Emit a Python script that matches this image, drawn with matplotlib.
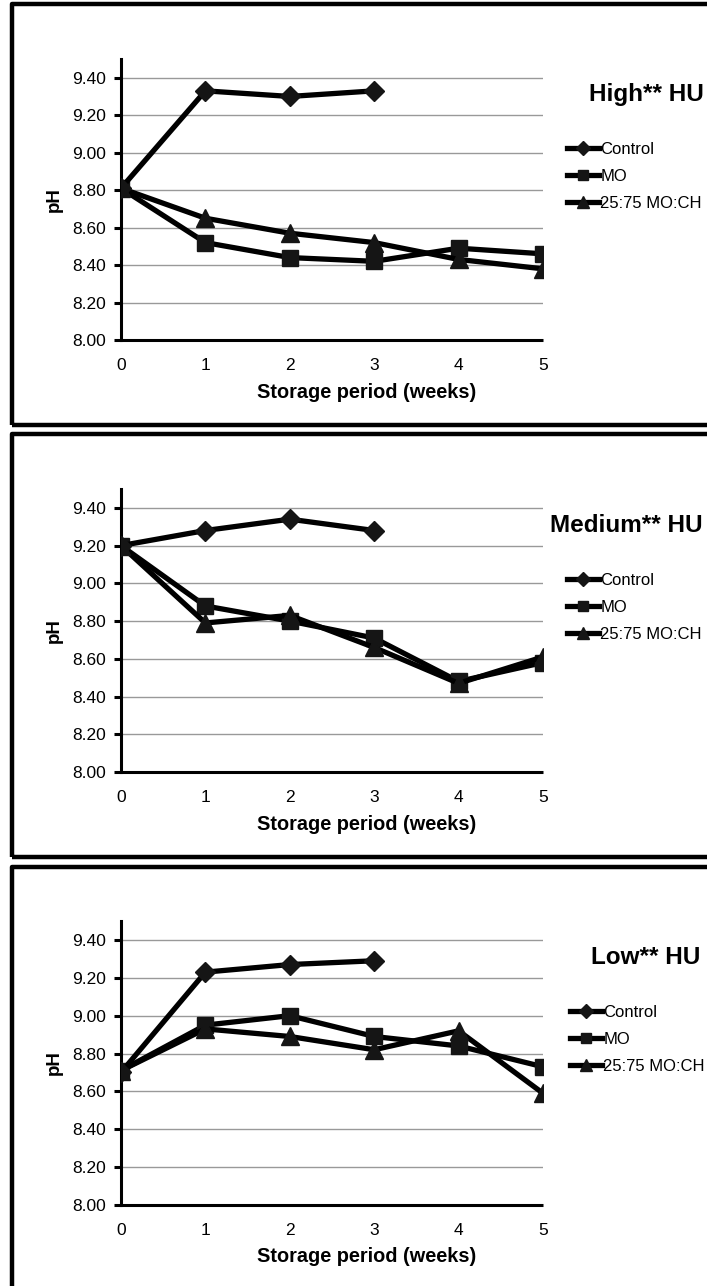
import matplotlib
matplotlib.use('Agg')
import matplotlib.pyplot as plt
from matplotlib.patches import Rectangle

plt.rcParams['font.family'] = ['Liberation Sans', 'DejaVu Sans']

weeks = [0, 1, 2, 3, 4, 5]
control_weeks = [0, 1, 2, 3]
series_names = ['Control', 'MO', '25:75 MO:CH']
yticks = [8.0, 8.2, 8.4, 8.6, 8.8, 9.0, 9.2, 9.4]

# High HU
high_control = [8.81, 9.33, 9.30, 9.33]
high_mo = [8.81, 8.52, 8.44, 8.42, 8.49, 8.46]
high_mix = [8.81, 8.65, 8.57, 8.52, 8.43, 8.38]

# Medium HU
med_control = [9.20, 9.28, 9.34, 9.28]
med_mo = [9.20, 8.88, 8.80, 8.71, 8.48, 8.58]
med_mix = [9.20, 8.79, 8.83, 8.66, 8.47, 8.61]

# Low HU
low_control = [8.70, 9.23, 9.27, 9.29]
low_mo = [8.71, 8.95, 9.00, 8.89, 8.84, 8.73]
low_mix = [8.71, 8.93, 8.89, 8.82, 8.92, 8.59]

W, H = 707, 1286
fig = plt.figure(figsize=(W / 100, H / 100), dpi=100)

panels = [
    # title, data, box (top, bottom), axes (top, bottom), title pos, legend left
    ('High** HU', (high_control, high_mo, high_mix), (4, 425), (59, 340), (589, 95), 567),
    ('Medium** HU', (med_control, med_mo, med_mix), (434, 857), (489, 772), (550, 525), 567),
    ('Low** HU', (low_control, low_mo, low_mix), (867, 1300), (921, 1205), (591, 958), 570),
]

for title, data, box, axpos, tpos, legx in panels:
    # border around each chart
    fig.patches.append(Rectangle((12 / W, 1 - box[1] / H), (760 - 12) / W, (box[1] - box[0]) / H,
                                 transform=fig.transFigure, fill=False, ec='black', lw=3.2,
                                 joinstyle='round'))

    left, right = 121, 543
    top, bottom = axpos
    ax = fig.add_axes([left / W, 1 - bottom / H, (right - left) / W, (bottom - top) / H])

    ctrl, mo, mix = data
    ax.plot(control_weeks, ctrl, color='black', lw=3.8, marker='D', ms=10.5,
            mfc='#151515', mec='#151515', label=series_names[0], zorder=5)
    ax.plot(weeks, mo, color='black', lw=3.8, marker='s', ms=12,
            mfc='#151515', mec='#151515', label=series_names[1], zorder=4)
    ax.plot(weeks, mix, color='black', lw=3.8, marker='^', ms=13,
            mfc='#151515', mec='#151515', label=series_names[2], zorder=4)

    ax.set_xlim(0, 5)
    ax.set_ylim(8.0, 9.5)
    ax.set_yticks(yticks)
    ax.set_yticklabels(['%.2f' % v for v in yticks])
    ax.set_xticks(weeks)
    for v in yticks[1:]:
        ax.axhline(v, color='#999999', lw=1.0, zorder=1)

    for s in ['top', 'right']:
        ax.spines[s].set_visible(False)
    ax.spines['left'].set_linewidth(2.2)
    ax.spines['bottom'].set_linewidth(2.2)
    ax.spines['bottom'].set_bounds(-0.015, 5)
    ax.spines['bottom'].set_capstyle('butt')

    ax.tick_params(axis='y', length=5, width=2.2, labelsize=12.5, pad=6, direction='out')
    ax.tick_params(axis='x', length=0, labelsize=12.5, pad=13)
    for lbl in ax.get_xticklabels() + ax.get_yticklabels():
        lbl.set_clip_on(False)

    ax.set_ylabel('pH', fontsize=13.5, fontweight='bold')
    ax.yaxis.set_label_coords(-0.159, 0.5)
    ax.yaxis.label.set_va('center')
    ax.set_xlabel('Storage period (weeks)', fontsize=14.3, fontweight='bold')
    ax.xaxis.set_label_coords(0.583, -52 / (bottom - top))
    ax.xaxis.label.set_va('center')

    fig.text(tpos[0] / W, 1 - tpos[1] / H, title, fontsize=17.5, fontweight='bold',
             ha='left', va='center')

    ax.legend(loc='center left', bbox_to_anchor=((legx - left) / (right - left), 0.582),
              frameon=False, fontsize=12, handlelength=1.9, handletextpad=0.1,
              labelspacing=0.72, borderpad=0, borderaxespad=0, markerscale=0.65)

fig.savefig('out.png', dpi=100)
